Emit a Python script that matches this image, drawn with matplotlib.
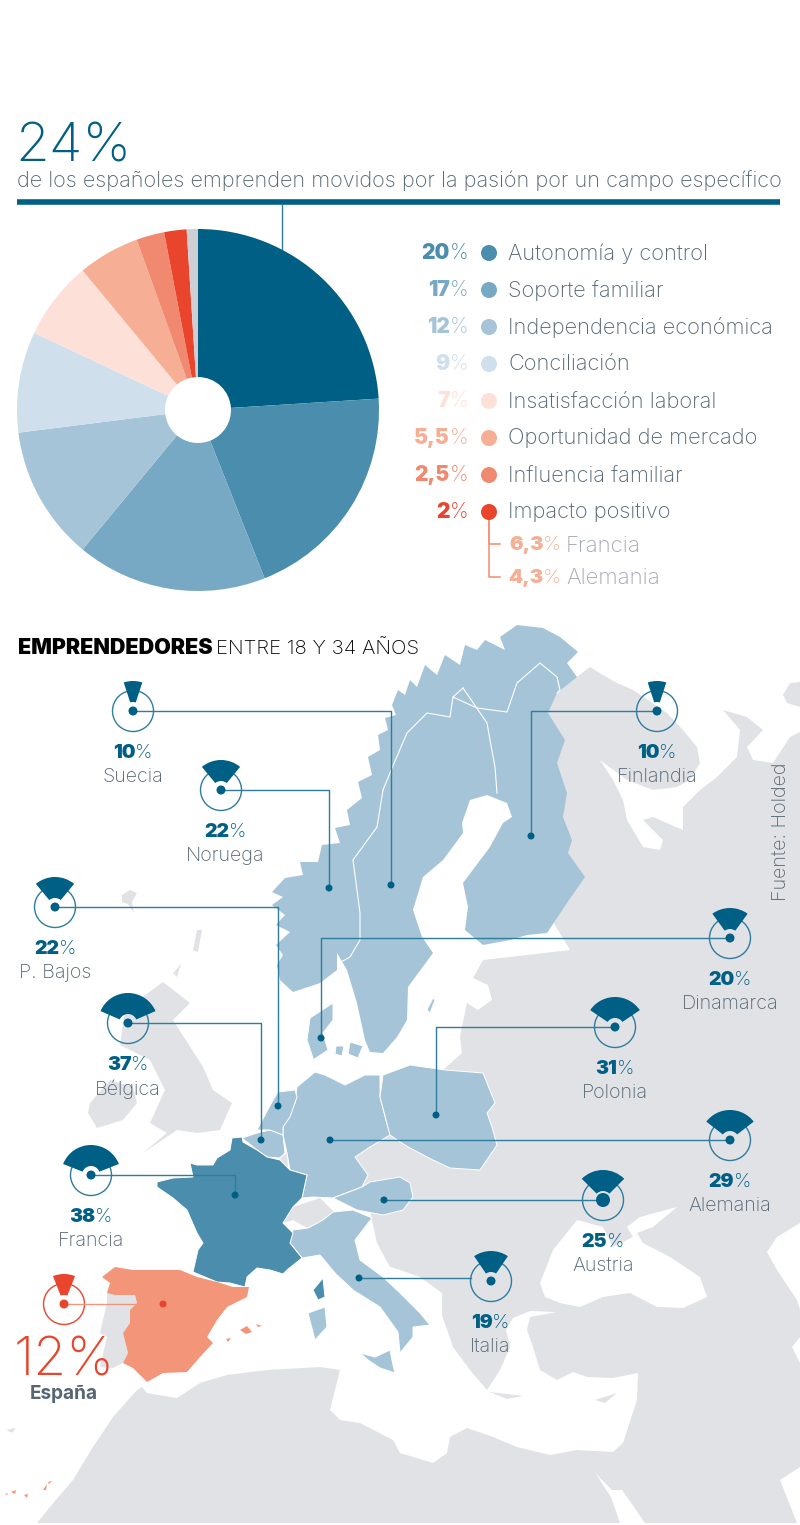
from matplotlib import pyplot as plt
from matplotlib.patches import Circle, Polygon, Wedge

# pie slices, clockwise from the top
pie_values = [24, 20, 17, 12, 9, 7, 5.5, 2.5, 2, 1]
pie_colors = ['#005f84', '#4a8dad', '#77a8c4', '#a5c4d8', '#cfdfeb',
              '#fde1d8', '#f6ae94', '#f08970', '#e8452c', '#cdcfd4']

# legend next to the pie
legend_pct = ['20', '17', '12', '9', '7', '5,5', '2,5', '2']
legend_names = ['Autonomía y control', 'Soporte familiar', 'Independencia económica',
                'Conciliación', 'Insatisfacción laboral', 'Oportunidad de mercado',
                'Influencia familiar', 'Impacto positivo']
legend_colors = pie_colors[1:9]
sub_pct = ['6,3', '4,3']
sub_names = ['Francia', 'Alemania']

# map callouts: share, centre of the gauge, dot on the country, label x
countries = ['Suecia', 'Noruega', 'P. Bajos', 'Bélgica', 'Francia', 'Finlandia',
             'Dinamarca', 'Polonia', 'Alemania', 'Austria', 'Italia']
country_pct = [10, 22, 22, 37, 38, 10, 20, 31, 29, 25, 19]
gauge_xy = [(133, 711), (221, 790), (55, 907), (128, 1023), (91, 1175), (657, 711),
            (730, 938), (615, 1027), (730, 1140), (603, 1200), (491, 1281)]
dot_xy = [(391, 885), (329, 888), (278, 1106), (261, 1140), (235, 1195), (531, 836),
          (321, 1038), (436, 1115), (330, 1140), (384, 1200), (359, 1278)]
label_x = [133, 225, 55, 128, 91, 657, 730, 615, 730, 603, 490]
spain_pct = 12

# map outlines (x, y in pixels)
east_land = [(590, 667), (603, 675), (617, 683), (633, 690), (648, 700), (667, 713), (683, 730),
             (697, 747), (700, 763), (690, 780), (677, 787), (653, 790), (627, 780), (600, 760),
             (613, 780), (623, 800), (627, 820), (643, 847), (660, 850), (663, 840), (643, 820),
             (653, 817), (683, 830), (683, 807), (700, 790), (717, 777), (737, 757), (740, 730),
             (723, 710), (747, 717), (763, 730), (747, 747), (753, 760), (773, 763), (790, 737),
             (800, 732), (800, 1223), (777, 1237), (767, 1252), (777, 1270), (797, 1300),
             (800, 1310), (800, 1337), (792, 1347), (800, 1363), (800, 1467), (780, 1480),
             (797, 1523), (37, 1523), (50, 1507), (73, 1480), (93, 1447), (113, 1417), (137, 1390),
             (142, 1387), (147, 1393), (177, 1398), (200, 1383), (227, 1375), (267, 1370),
             (320, 1367), (340, 1370), (330, 1410), (340, 1420), (360, 1423), (393, 1440),
             (400, 1453), (433, 1463), (447, 1453), (450, 1437), (467, 1428), (493, 1437),
             (517, 1447), (550, 1455), (577, 1450), (613, 1452), (623, 1443), (637, 1400),
             (638, 1373), (613, 1378), (587, 1377), (573, 1372), (557, 1380), (540, 1370),
             (533, 1347), (527, 1330), (530, 1317), (557, 1312), (530, 1311), (513, 1318),
             (506, 1330), (510, 1347), (500, 1370), (487, 1390), (470, 1370), (453, 1347),
             (442, 1315), (442, 1293), (420, 1277), (400, 1270), (390, 1267), (377, 1243),
             (372, 1220), (365, 1190), (350, 1157), (370, 1140), (420, 1120), (443, 1070),
             (462, 1053), (460, 1037), (467, 1003), (478, 1010), (492, 1000), (488, 985), (473, 978),
             (483, 960), (510, 957), (570, 950), (540, 900), (530, 780), (540, 690), (577, 677)]
black_sea = [(540, 1283), (553, 1250), (577, 1220), (603, 1227), (613, 1247), (633, 1237), (627, 1227),
             (640, 1217), (677, 1207), (653, 1227), (637, 1233), (643, 1243), (670, 1257), (700, 1277),
             (707, 1297), (683, 1308), (657, 1307), (630, 1293), (603, 1297), (580, 1307), (560, 1303),
             (545, 1297)]
red_sea = [(595, 1472), (603, 1485), (611, 1497), (620, 1523), (645, 1523), (627, 1497), (622, 1490),
           (612, 1490), (600, 1478)]
gray_islands = [
    [(125, 1010), (163, 982), (190, 1003), (173, 1020), (203, 1067), (213, 1090), (232, 1103), (220, 1130),
     (197, 1133), (177, 1130), (143, 1153), (167, 1133), (150, 1123), (165, 1090), (150, 1060), (120, 1045)],
    [(90, 1103), (88, 1113), (97, 1128), (123, 1120), (137, 1103), (133, 1087), (110, 1080)],
    [(122, 895), (130, 890), (137, 893), (132, 902), (134, 913), (128, 904), (122, 902)],
    [(193, 950), (197, 930), (202, 930), (198, 952)],
    [(173, 973), (181, 964), (177, 977)],
    [(6, 1430), (16, 1428), (12, 1433)],
    [(783, 695), (790, 683), (800, 682), (800, 707), (787, 703)],
    [(490, 1392), (523, 1396), (507, 1399)],
    [(595, 1400), (617, 1393), (605, 1403)],
    [(283, 1223), (293, 1207), (320, 1198), (335, 1213), (323, 1220), (307, 1228), (293, 1220)],
    [(107, 1293), (135, 1295), (137, 1303), (130, 1310), (130, 1323), (123, 1333), (128, 1353), (123, 1363),
     (113, 1368), (100, 1367), (107, 1337), (100, 1333), (107, 1303)],
    [(280, 1158), (287, 1153), (288, 1167), (283, 1165)],
]
scandinavia = [(578, 652), (560, 637), (543, 628), (517, 625), (500, 637), (505, 650), (485, 640), (477, 650),
               (465, 645), (460, 665), (445, 655), (437, 675), (425, 665), (417, 687), (410, 680), (405, 695),
               (398, 690), (392, 705), (396, 715), (385, 718), (388, 730), (378, 735), (380, 750), (368, 757),
               (372, 775), (358, 782), (362, 798), (347, 810), (350, 825), (335, 828), (340, 843), (322, 845),
               (318, 862), (300, 862), (303, 875), (285, 878), (272, 892), (283, 897), (272, 905), (285, 915),
               (276, 925), (290, 932), (276, 945), (283, 955), (277, 965), (280, 980), (293, 992), (320, 983),
               (337, 970), (337, 953), (347, 970), (357, 1003),
               (365, 1040), (370, 1052), (383, 1053), (397, 1037), (407, 1020), (408, 987), (433, 953),
               (422, 937), (413, 910), (423, 877), (443, 860), (463, 833), (462, 823), (470, 800), (487, 795),
               (507, 803), (512, 817), (503, 823), (490, 847), (463, 883), (468, 907), (465, 930), (483, 945),
               (510, 940), (527, 935), (547, 933), (567, 903), (585, 877), (568, 853), (572, 840), (563, 817),
               (567, 793), (557, 763), (565, 740), (548, 713), (557, 693), (577, 677), (567, 663)]
blue_land = [
    # Germany
    [(283, 1135), (283, 1127), (295, 1103), (297, 1087), (315, 1072), (325, 1075), (345, 1085), (365, 1075),
     (380, 1075), (380, 1097), (390, 1135), (370, 1147), (355, 1157), (368, 1175), (362, 1187), (333, 1198),
     (313, 1197), (302, 1198), (307, 1175), (290, 1170), (287, 1153)],
    # Belgium
    [(242, 1138), (257, 1133), (270, 1130), (283, 1135), (285, 1153), (280, 1158), (267, 1157), (257, 1150)],
    # Netherlands
    [(257, 1130), (273, 1100), (278, 1092), (295, 1090), (297, 1097), (290, 1117), (283, 1127), (283, 1135),
     (270, 1130)],
    # Denmark
    [(310, 1018), (333, 1003), (333, 1020), (323, 1033), (328, 1050), (313, 1060), (317, 1070), (307, 1040)],
    [(336, 1046), (344, 1046), (342, 1056), (335, 1054)],
    [(350, 1042), (363, 1046), (358, 1058), (348, 1054)],
    # Gotland
    [(427, 1010), (433, 998), (435, 1000), (430, 1013)],
    # Poland
    [(383, 1075), (410, 1065), (445, 1070), (483, 1073), (495, 1103), (487, 1113), (492, 1127), (497, 1145),
     (480, 1170), (450, 1168), (433, 1160), (410, 1148), (400, 1142), (390, 1135), (380, 1097)],
    # Austria
    [(333, 1198), (362, 1187), (370, 1182), (400, 1177), (410, 1183), (413, 1197), (403, 1210), (383, 1215),
     (357, 1210)],
    # Italy
    [(293, 1230), (308, 1228), (323, 1220), (333, 1212), (353, 1210), (372, 1218), (355, 1240), (360, 1260),
     (383, 1277), (400, 1293), (420, 1313), (430, 1325), (413, 1327), (413, 1337), (400, 1353), (398, 1332),
     (380, 1307), (353, 1290), (335, 1273), (320, 1255), (302, 1258), (290, 1243)],
    [(308, 1313), (325, 1307), (327, 1327), (315, 1340)],
    [(360, 1353), (375, 1357), (390, 1350), (393, 1365), (395, 1373), (380, 1368), (368, 1360)],
]
france_land = [
    [(232, 1138), (242, 1137), (243, 1142), (257, 1150), (267, 1157), (280, 1160), (290, 1170), (307, 1175),
     (302, 1198), (293, 1207), (283, 1223), (293, 1233), (290, 1243), (302, 1258), (287, 1270), (283, 1274),
     (270, 1270), (257, 1268), (247, 1277), (245, 1287), (230, 1283), (217, 1282), (193, 1272), (198, 1250),
     (203, 1243), (197, 1233), (187, 1210), (173, 1198), (157, 1187), (157, 1182), (173, 1178), (193, 1177),
     (190, 1163), (197, 1165), (213, 1165), (217, 1158), (230, 1150)],
    [(313, 1290), (323, 1278), (325, 1297), (318, 1300)],
]
spain_land = [
    [(102, 1277), (115, 1267), (133, 1270), (157, 1270), (180, 1270), (197, 1277), (217, 1282), (233, 1287),
     (249, 1287), (247, 1297), (227, 1307), (217, 1320), (207, 1337), (213, 1343), (200, 1357), (187, 1372),
     (163, 1373), (147, 1382), (133, 1368), (123, 1363), (128, 1353), (123, 1333), (130, 1323), (130, 1310),
     (137, 1303), (135, 1295), (115, 1295), (107, 1293), (110, 1283)],
    [(240, 1330), (247, 1326), (252, 1332), (246, 1334)],
    [(226, 1339), (231, 1338), (228, 1342)],
    [(256, 1324), (262, 1326), (258, 1327)],
    [(11, 1492), (16, 1490), (15, 1494)], [(24, 1495), (28, 1494), (27, 1498)],
    [(43, 1490), (47, 1484), (46, 1490)], [(48, 1482), (52, 1481), (49, 1484)],
    [(5, 1494), (8, 1493), (7, 1495)],
]
border_lines = [
    [(383, 790), (377, 827), (353, 860), (360, 913), (360, 940), (350, 957), (341, 962)],
    [(383, 790), (392, 768), (407, 733), (427, 713), (450, 717), (453, 697), (463, 688)],
    [(453, 697), (477, 708), (507, 712), (517, 683), (540, 663), (557, 677), (560, 690), (557, 693)],
    [(463, 688), (487, 723), (490, 740), (495, 767), (497, 793)],
]

DARK = '#005f84'
LINE = '#2f7c9c'
RED = '#e8452c'
SALMON = '#f39578'
GRAY_LAND = '#e1e2e6'
BLUE_LAND = '#a5c4d8'
GRAY_TEXT = '#566673'
SUB_TEXT = '#a3a9b1'

plt.rcParams['font.family'] = ['Inter', 'DejaVu Sans']

fig = plt.figure(figsize=(8, 15.25), dpi=100)
ax = fig.add_axes([0, 0, 1, 1])
ax.set_xlim(0, 800)
ax.set_ylim(1525, 0)
ax.axis('off')


def land(outline, color, edge='none', z=1):
    ax.add_patch(Polygon(outline, closed=True, facecolor=color, edgecolor=edge, linewidth=0.7, zorder=z))


def pct_text(x, y, number, color, size, ha='center', z=10):
    # heavy digits followed by a thin percent sign
    bold = ax.text(0, y, number, color=color, fontsize=size, fontweight='black', va='center', zorder=z)
    sign = ax.text(0, y, '%', color=color, fontsize=size, fontweight='light', va='center', zorder=z)
    r = fig.canvas.get_renderer()
    w1 = bold.get_window_extent(r).width - 0.5
    w2 = sign.get_window_extent(r).width
    x0 = x - (w1 + w2) / 2 if ha == 'center' else x - w1 - w2
    bold.set_x(x0)
    sign.set_x(x0 + w1)


# map
land(east_land, GRAY_LAND)
land(black_sea, 'white', z=2)
land(red_sea, 'white', z=2)
for outline in gray_islands:
    land(outline, GRAY_LAND, z=2)
land(scandinavia, BLUE_LAND, z=3)
for outline in blue_land:
    land(outline, BLUE_LAND, edge='white', z=3)
for outline in france_land:
    land(outline, '#4a8dad', edge='white', z=3)
for outline in spain_land:
    land(outline, SALMON, z=3)
for line in border_lines:
    xs, ys = zip(*line)
    ax.plot(xs, ys, color='white', lw=0.8, zorder=4)

# header
ax.text(15, 162, '24%', color=DARK, fontsize=39.5, fontweight='light', va='baseline', ha='left')
ax.text(17, 180.5, 'de los españoles emprenden movidos por la pasión por un campo específico',
        color=GRAY_TEXT, fontsize=15.6, fontweight='light', va='center', ha='left')
ax.plot([17, 780], [202, 202], color=DARK, lw=4, solid_capstyle='butt')
ax.plot([281.5, 281.5], [204, 249], color=LINE, lw=1)

# pie in its own axes
pie_r = 181
pie_ax = fig.add_axes([(198 - pie_r) / 800, 1 - (410 + pie_r) / 1525, 2 * pie_r / 800, 2 * pie_r / 1525])
pie_ax.pie(pie_values, colors=pie_colors, startangle=90, counterclock=False, radius=1,
           wedgeprops={'width': 1 - 33 / pie_r, 'linewidth': 0})
pie_ax.set_xlim(-1, 1)
pie_ax.set_ylim(-1, 1)

# legend
legend_y = 253.0
step = 37
for i, (pct, name, col) in enumerate(zip(legend_pct, legend_names, legend_colors)):
    y = legend_y + i * step
    pct_text(468, y, pct, col, 15, ha='right')
    ax.add_patch(Circle((489, y), 8, facecolor=col, edgecolor='none', zorder=5))
    ax.text(508, y + 0.5, name, color=GRAY_TEXT, fontsize=15.7, fontweight='light', va='center', ha='left')
for i, (pct, name) in enumerate(zip(sub_pct, sub_names)):
    y = 544 + i * 33
    ax.plot([489, 489, 500], [518, y, y], color=SALMON, lw=1.2, zorder=4)
    pct_text(561, y + 1, pct, '#f6ae94', 14.5, ha='right')
    ax.text(566, y + 1.5, name, color=SUB_TEXT, fontsize=16, fontweight='light', va='center', ha='left')

# map title
ax.text(18, 648.5, 'EMPRENDEDORES', color='black', fontsize=15.5, fontweight='black', va='center', ha='left')
ax.text(216, 648.5, 'ENTRE 18 Y 34 AÑOS', color='black', fontsize=14.7, fontweight='light', va='center', ha='left')

ax.text(781, 832, 'Fuente: Holded', color=GRAY_TEXT, fontsize=14.2, fontweight='light', rotation=90,
        va='center', ha='center', zorder=10)


def gauge(center, pct, color, ring, dot_r=4.5):
    theta = pct * 3.6
    # y axis points down, so "up" on screen is 270 degrees
    ax.add_patch(Wedge(center, 30, 270 - theta / 2, 270 + theta / 2, width=21, facecolor=color,
                       edgecolor='none', zorder=7))
    ax.add_patch(Circle(center, 20.5, facecolor='none', edgecolor=ring, linewidth=1, zorder=6))
    ax.add_patch(Circle(center, dot_r, facecolor=color, edgecolor='none', zorder=8))


for name, pct, c, d, lx in zip(countries, country_pct, gauge_xy, dot_xy, label_x):
    gauge(c, pct, DARK, LINE, dot_r=7 if name == 'Austria' else 4.5)
    if name == 'Italia':
        xs, ys = [d[0], c[0] - 20], [d[1], d[1]]
    else:
        xs, ys = [c[0], d[0], d[0]], [c[1], c[1], d[1]]
    ax.plot(xs, ys, color=LINE, lw=1, zorder=6)
    ax.add_patch(Circle(d, 3.5, facecolor=DARK, edgecolor='none', zorder=8))
    pct_text(lx, c[1] + 42, str(pct), DARK, 14)
    ax.text(lx, c[1] + 66, name, color=GRAY_TEXT, fontsize=14.2, fontweight='light', va='center', ha='center',
            zorder=10)

# Spain
gauge((64, 1304), spain_pct, RED, RED)
ax.plot([64, 163], [1304, 1304], color=SALMON, lw=1, zorder=6)
ax.add_patch(Circle((163, 1304), 3.5, facecolor=RED, edgecolor='none', zorder=8))
ax.text(64, 1375, f'{spain_pct}%', color=RED, fontsize=38.5, fontweight='light', va='baseline', ha='center', zorder=10)
ax.text(64, 1394, 'España', color=GRAY_TEXT, fontsize=13.7, fontweight='bold', va='center', ha='center', zorder=10)

fig.savefig('out.png', dpi=100)
